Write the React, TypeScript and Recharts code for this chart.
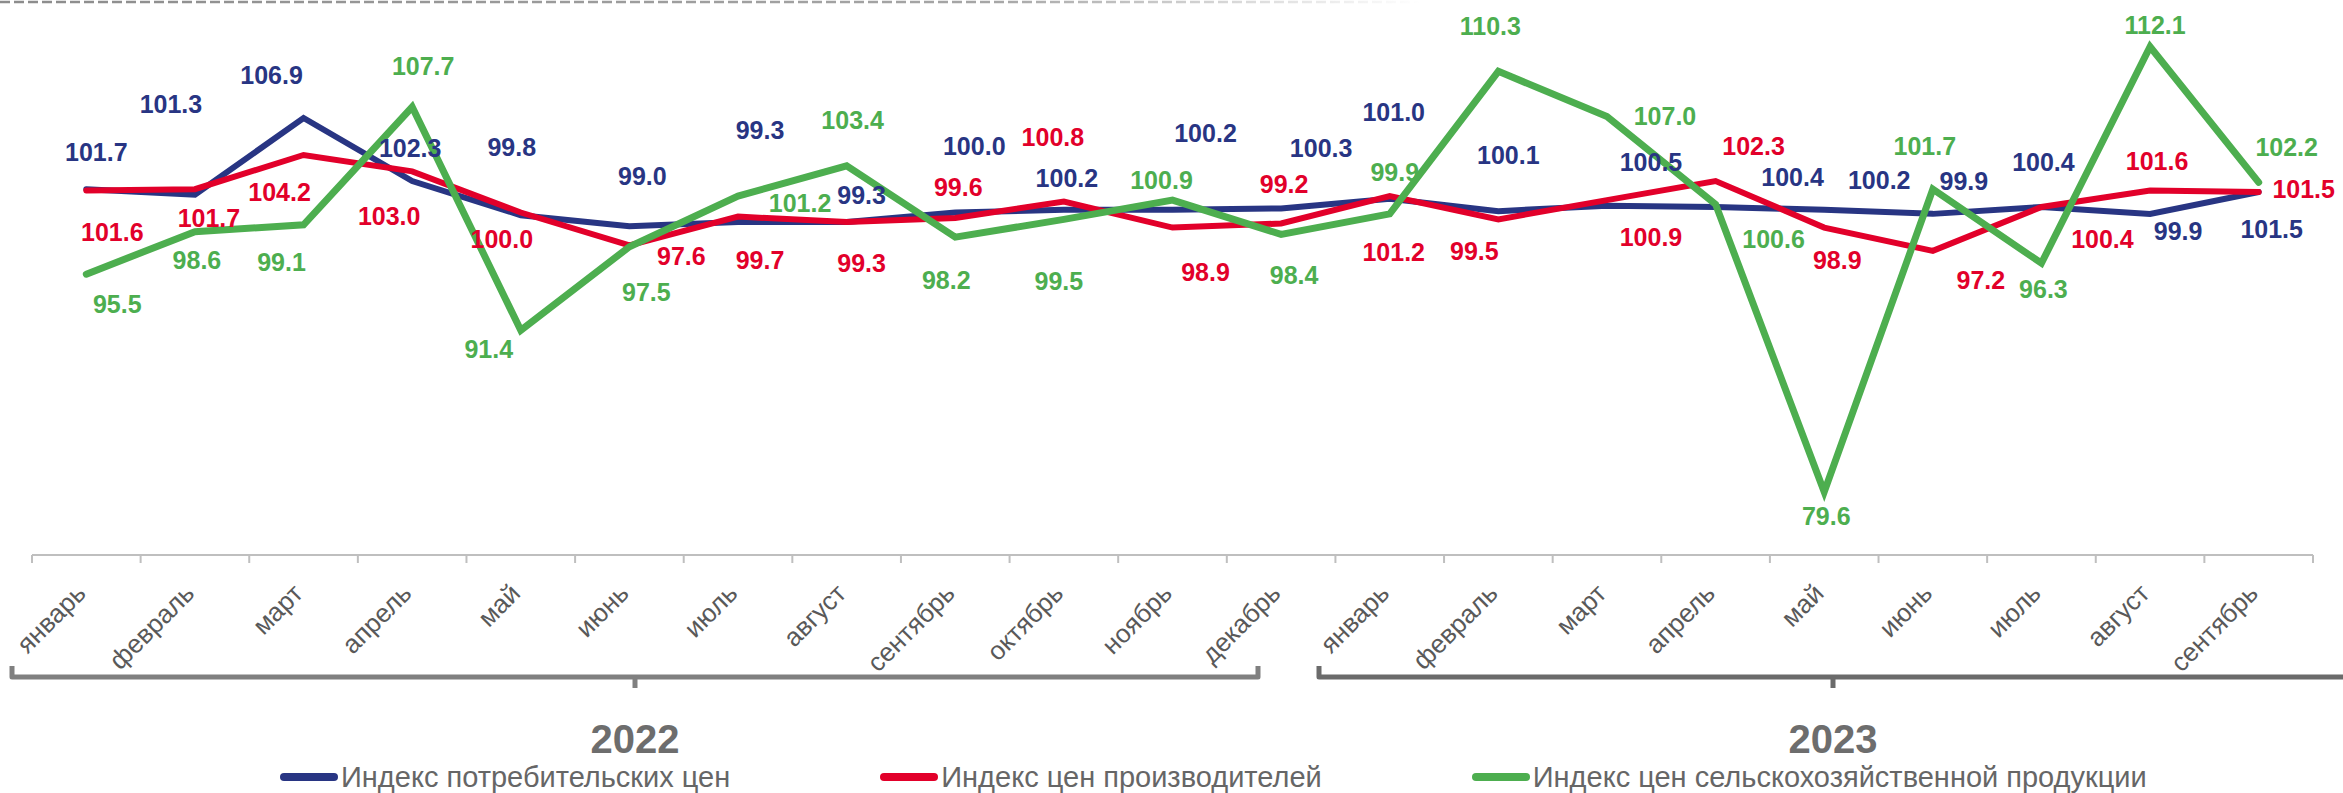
import React from "react";
import { LineChart, Line, XAxis, YAxis, Legend, LabelList, Customized } from "recharts";

const months = [
  "январь", "февраль", "март", "апрель", "май", "июнь", "июль", "август",
  "сентябрь", "октябрь", "ноябрь", "декабрь",
  "январь", "февраль", "март", "апрель", "май", "июнь", "июль", "август", "сентябрь",
];
const cpi = [101.7, 101.3, 106.9, 102.3, 99.8, 99.0, 99.3, 99.3, 100.0, 100.2, 100.2, 100.3, 101.0, 100.1, 100.5, 100.4, 100.2, 99.9, 100.4, 99.9, 101.5];
const ppi = [101.6, 101.7, 104.2, 103.0, 100.0, 97.6, 99.7, 99.3, 99.6, 100.8, 98.9, 99.2, 101.2, 99.5, 100.9, 102.3, 98.9, 97.2, 100.4, 101.6, 101.5];
const agri = [95.5, 98.6, 99.1, 107.7, 91.4, 97.5, 101.2, 103.4, 98.2, 99.5, 100.9, 98.4, 99.9, 110.3, 107.0, 100.6, 79.6, 101.7, 96.3, 112.1, 102.2];
const years = ["2022", "2023"];

const seriesNames = {
  cpi: "Индекс потребительских цен",
  ppi: "Индекс цен производителей",
  agri: "Индекс цен сельскохозяйственной продукции",
};

const data = months.map((m, i) => ({ month: m, cpi: cpi[i], ppi: ppi[i], agri: agri[i] }));

// label placement (dx, dy from the point), as hand-placed in the original
const labelShift: Record<string, number[][]> = {
  cpi: [[10, -37], [-24, -91], [-32, -43], [-2, -33], [-9, -68], [13, -50], [22, -92], [15, -27], [19, -67], [3, -32], [33, -77], [40, -60], [4, -87], [10, -56], [44, -44], [77, -30], [55, -30], [31, -33], [2, -45], [28, 17], [13, 37]],
  ppi: [[26, 41], [14, 29], [-24, 37], [-23, 45], [-19, 26], [52, 11], [22, 43], [15, 41], [3, -31], [-11, -65], [33, 44], [3, -39], [4, 56], [-24, 32], [44, 37], [38, -35], [13, 32], [48, 29], [61, 32], [7, -30], [45, -3]],
  agri: [[31, 30], [2, 28], [-22, 37], [11, -41], [-32, 19], [17, 45], [62, 7], [6, -46], [-9, 43], [-5, 62], [-11, -20], [13, 41], [5, -42], [-8, -45], [58, -1], [58, 35], [2, 24], [-8, -43], [2, 26], [5, -22], [28, -35]],
};

const W = 2343;
const H = 793;
const FONT = "'Liberation Sans', Arial, sans-serif";
const BLUE = "#283583";
const RED = "#e2002a";
const GREEN = "#4dae4f";
const MARGIN = { top: 7, right: 30, bottom: 198, left: 32 };
const BAND = (W - MARGIN.left - MARGIN.right) / months.length;

const makeLabel = (key: string, color: string) => (props: any) => {
  const { index, value } = props;
  const x = props.x ?? props.viewBox?.x;
  const y = props.y ?? props.viewBox?.y;
  if (x == null || y == null) return null;
  const [dx, dy] = labelShift[key][index] || [0, -30];
  return (
    <text
      x={x + dx}
      y={y + dy + 9}
      textAnchor="middle"
      fill={color}
      fontSize={25}
      fontWeight="bold"
      fontFamily={FONT}
    >
      {Number(value).toFixed(1)}
    </text>
  );
};

const MonthTick = (props: any) => {
  const { x, y, payload, index } = props;
  const half = BAND / 2;
  const tx = x + 1;
  const ty = y + 40;
  return (
    <g>
      <line x1={x - half} x2={x - half} y1={y} y2={y + 8} stroke="#bfbfbf" strokeWidth={2} />
      {index === months.length - 1 && (
        <line x1={x + half} x2={x + half} y1={y} y2={y + 8} stroke="#bfbfbf" strokeWidth={2} />
      )}
      <text
        x={tx}
        y={ty}
        transform={`rotate(-45 ${tx} ${ty})`}
        textAnchor="end"
        fill="#595959"
        fontSize={26}
        fontFamily={FONT}
      >
        {payload.value}
      </text>
    </g>
  );
};

const Decorations = () => (
  <g>
    <defs>
      <linearGradient id="fadeTop" gradientUnits="userSpaceOnUse" x1={0} y1={0} x2={1420} y2={0}>
        <stop offset="0%" stopColor="#8c8c8c" />
        <stop offset="70%" stopColor="#a6a6a6" />
        <stop offset="100%" stopColor="#ffffff" />
      </linearGradient>
    </defs>
    <line x1={0} x2={1420} y1={2} y2={2} stroke="url(#fadeTop)" strokeWidth={2.5} strokeDasharray="10 4" />
    {/* year brackets */}
    <path d="M12 666 V677 H1258 V666" fill="none" stroke="#808080" strokeWidth={5} strokeLinejoin="round" />
    <line x1={635} x2={635} y1={677} y2={688} stroke="#808080" strokeWidth={5} />
    <path d="M1319 666 V677 H2360" fill="none" stroke="#6b6b6b" strokeWidth={5} strokeLinejoin="round" />
    <line x1={1833} x2={1833} y1={677} y2={688} stroke="#6b6b6b" strokeWidth={5} />
    <text x={635} y={753} textAnchor="middle" fontSize={40} fontWeight="bold" fill="#6d6d6d" fontFamily={FONT}>
      {years[0]}
    </text>
    <text x={1833} y={753} textAnchor="middle" fontSize={40} fontWeight="bold" fill="#6d6d6d" fontFamily={FONT}>
      {years[1]}
    </text>
  </g>
);

const renderLegend = (props: any) => {
  const { payload } = props;
  return (
    <div
      style={{
        display: "flex",
        alignItems: "center",
        paddingLeft: 280,
        fontFamily: FONT,
        fontSize: 29,
        lineHeight: "28px",
        color: "#666666",
        whiteSpace: "nowrap",
      }}
    >
      {(payload || []).map((entry: any, i: number) => (
        <div key={i} style={{ display: "flex", alignItems: "center", marginRight: 150 }}>
          <span
            style={{
              display: "inline-block",
              width: 58,
              height: 8,
              borderRadius: 4,
              background: entry.color,
              marginRight: 3,
            }}
          />
          <span>{entry.value}</span>
        </div>
      ))}
    </div>
  );
};

export default function App() {
  return (
    <div style={{ position: "absolute", left: 0, top: 0, width: W, height: H, background: "#fff" }}>
      <LineChart width={W} height={H} data={data} margin={MARGIN}>
        <XAxis
          dataKey="month"
          interval={0}
          height={40}
          padding={{ left: BAND / 2, right: BAND / 2 }}
          axisLine={{ stroke: "#bfbfbf", strokeWidth: 2 }}
          tickLine={false}
          tickSize={0}
          tickMargin={0}
          tick={<MonthTick />}
        />
        <YAxis hide domain={[75, 115]} type="number" />
        <Customized component={<Decorations />} />
        <Line
          dataKey="cpi"
          name={seriesNames.cpi}
          stroke={BLUE}
          strokeWidth={6}
          strokeLinecap="round"
          dot={false}
          activeDot={false}
          isAnimationActive={false}
        >
          <LabelList dataKey="cpi" content={makeLabel("cpi", BLUE)} />
        </Line>
        <Line
          dataKey="ppi"
          name={seriesNames.ppi}
          stroke={RED}
          strokeWidth={6}
          strokeLinecap="round"
          dot={false}
          activeDot={false}
          isAnimationActive={false}
        >
          <LabelList dataKey="ppi" content={makeLabel("ppi", RED)} />
        </Line>
        <Line
          dataKey="agri"
          name={seriesNames.agri}
          stroke={GREEN}
          strokeWidth={7}
          strokeLinecap="round"
          dot={false}
          activeDot={false}
          isAnimationActive={false}
        >
          <LabelList dataKey="agri" content={makeLabel("agri", GREEN)} />
        </Line>
        <Legend
          layout="vertical"
          verticalAlign="middle"
          align="center"
          content={renderLegend}
          wrapperStyle={{ left: 0, top: 763, width: W, height: 28 }}
        />
      </LineChart>
    </div>
  );
}
